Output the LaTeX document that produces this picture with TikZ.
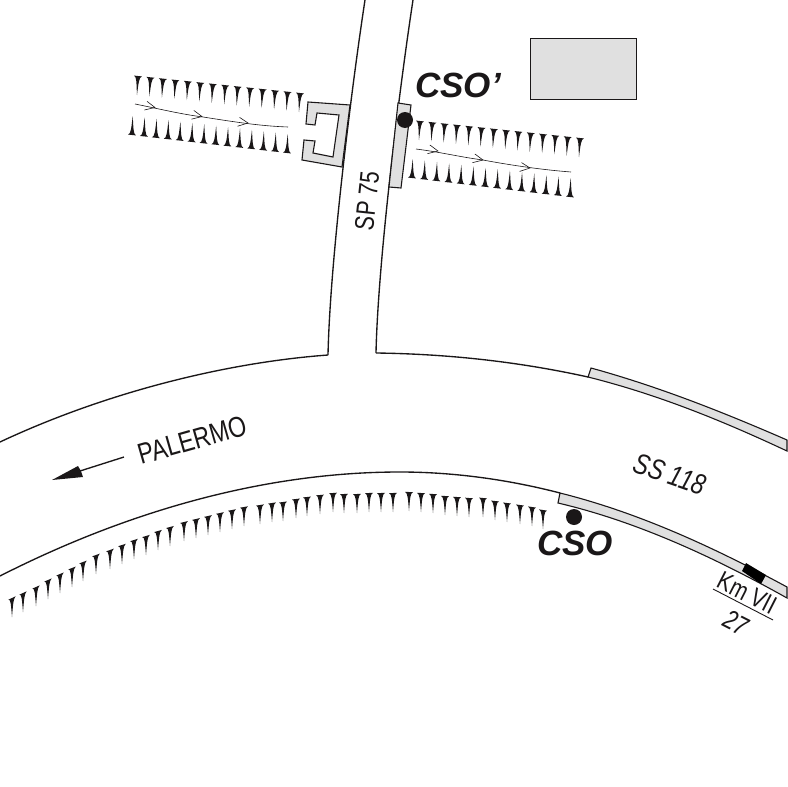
\documentclass[tikz,border=0pt]{standalone}
\usepackage{fontspec}
\usepackage{graphicx}
\setmainfont{Liberation Sans}
\definecolor{pave}{HTML}{E0E0E0}
\definecolor{ink}{HTML}{1A1718}
\newcommand{\spk}[5]{\begin{scope}[shift={(#1,#2)}]
  \fill[ink] ({-4*cos(#3)},{-4*sin(#3)}) .. controls (-1.2,{.05*#5}) and ({.6*#4-1.1},{.35*#5}) .. (#4,#5)
    .. controls ({.6*#4+1.1},{.35*#5}) and (1.2,{.05*#5}) .. ({4*cos(#3)},{4*sin(#3)}) -- cycle;
\end{scope}}
\newcommand{\vhead}[3]{\begin{scope}[shift={(#1,#2)},rotate=-#3]
  \draw[flowline] (-9,-4.5) -- (0,0) -- (-10,4.5);
\end{scope}}
\tikzset{
  road/.style={draw=ink,line width=1.35pt},
  flowline/.style={draw=ink,line width=.6pt},
  lab/.style={inner sep=0pt,text=ink},
  bigcso/.style={lab,font=\fontsize{35}{35}\selectfont\bfseries\itshape},
  spot/.style={circle,fill=ink,inner sep=0pt,minimum size=16pt}
}
\begin{document}
\begin{tikzpicture}[x=1pt,y=-1pt]
\useasboundingbox (0,0) rectangle (788,787);
% building
\draw[road,fill=pave,line width=1pt] (530,38) rectangle (636,99);
% SP 75
\draw[road] (365,0) .. controls (352,85) and (330,260) .. (328,355);
\draw[road] (413,0) .. controls (400,85) and (378,260) .. (376,353);
% SS 118 upper edge
\draw[road] (0,442) .. controls (100,395) and (220,363) .. (328,355);
\draw[road] (376,353) .. controls (450,354) and (520,362) .. (588,377);
% SS 118 lower edge
\draw[road] (0,576) .. controls (110,520) and (250,472) .. (400,472)
   .. controls (455,472) and (510,480) .. (560,493);
% strips
\draw[road,fill=pave,line width=1.1pt] (591,368) .. controls (660,387) and (725,413) .. (787,440)
   -- (787,451) .. controls (725,422) and (660,395) .. (588,377) -- cycle;
\draw[road,fill=pave,line width=1.1pt] (560,493) .. controls (640,513) and (715,548) .. (787,587)
   -- (787,598) .. controls (712,556) and (635,521) .. (558,503) -- cycle;
\fill[black] (746,563) -- (766,575) -- (761,584) -- (742,571) -- cycle;
% culvert head left
\draw[road,fill=pave,line width=1.1pt] (308,102) -- (350,105) -- (342,167) -- (302,160) -- (304,140)
   -- (315,141) -- (313,153) -- (333,157) -- (339,115) -- (317,113) -- (315,125) -- (306,124) -- cycle;
% culvert head right
\draw[road,fill=pave,line width=1.1pt] (398,103) -- (411,105) -- (401,188) -- (389,187) -- cycle;
% bank ticks, channel left
\foreach \i in {0,...,13}{
  \pgfmathsetmacro\ax{138+\i*162/13}\pgfmathsetmacro\ay{76+\i*17/13}
  \spk{\ax}{\ay}{6}{-1}{19}
  \pgfmathsetmacro\bx{132+\i*155/13}\pgfmathsetmacro\by{135+\i*18/13}
  \spk{\bx}{\by}{6}{.7}{-19}
}
% bank ticks, channel right
\foreach \i in {0,...,13}{
  \pgfmathsetmacro\ax{420+\i*160/13}\pgfmathsetmacro\ay{121+\i*17/13}
  \spk{\ax}{\ay}{6}{-1}{19}
  \pgfmathsetmacro\bx{412+\i*158/13}\pgfmathsetmacro\by{178+\i*19/13}
  \spk{\bx}{\by}{6}{.7}{-19}
}
% ticks along SS 118
\foreach \x/\y in {12/598,23/593,36/587,48/580,60/574,72/568,83/562,96/555,110/550,122/545,134/540,146/536,158/531,170/527,184/522,196/519,208/516,220/513,232/510,244/507,260/505,
 272/503,283/502,296/499,307/497,320/495,333/493,344/494,357/494,369/493,381/493,393/493,409/492,421/493,433/494,445/496,457/497,469/498,483/498,495/501,507/503,520/505,532/507,543/510}{
  \pgfmathsetmacro\ang{(\x-400)*.065}
  \spk{\x}{\y}{\ang}{0}{19}
}
% flow lines
\draw[flowline] (135,104) .. controls (160,109) and (180,114) .. (203,117) .. controls (235,122) and (260,126) .. (288,127);
\vhead{155}{107.5}{11}\vhead{202}{116.5}{10}\vhead{248}{123}{7}
\draw[flowline] (416,149) .. controls (440,152) and (460,157) .. (483,160) .. controls (515,166) and (545,170) .. (571,172);
\vhead{438}{151}{10}\vhead{483}{160}{10}\vhead{530}{168}{6}
% dots
\node[spot] (csoprime) at (405,120) {};
\node[spot] (csodot) at (574,517) {};
% labels
\node[bigcso,anchor=west] (lcsop) at (415,85) {CSO’};
\node[bigcso,anchor=west] (lcso) at (537,543) {CSO};
\node[lab,rotate=84] (sp) at (367,201) {\fontsize{27}{27}\selectfont\scalebox{.8}[1]{SP 75}};
\node[lab,rotate=16] (pal) at (192,440) {\fontsize{29}{29}\selectfont\scalebox{.8}[1]{PALERMO}};
\node[lab,rotate=-19] (ss) at (670,474) {\fontsize{29}{29}\selectfont\itshape\scalebox{.8}[1]{SS 118}};
\node[lab,rotate=-27] (km) at (747,593) {\fontsize{26}{26}\selectfont\scalebox{.8}[1]{Km VII}};
\node[lab,rotate=-27] (kmn) at (736,623) {\fontsize{27}{27}\selectfont\itshape\scalebox{.8}[1]{27}};
\draw[ink,line width=.9pt] (713,589) -- (773,620);
% arrow to Palermo
\coordinate (arrA) at (124,457);
\coordinate (arrB) at (80,471);
\draw[road] (arrA) -- (arrB);
\fill[ink] (52,480) -- (78,466) -- (81,471) -- (83,477) -- cycle;
\end{tikzpicture}
\end{document}
